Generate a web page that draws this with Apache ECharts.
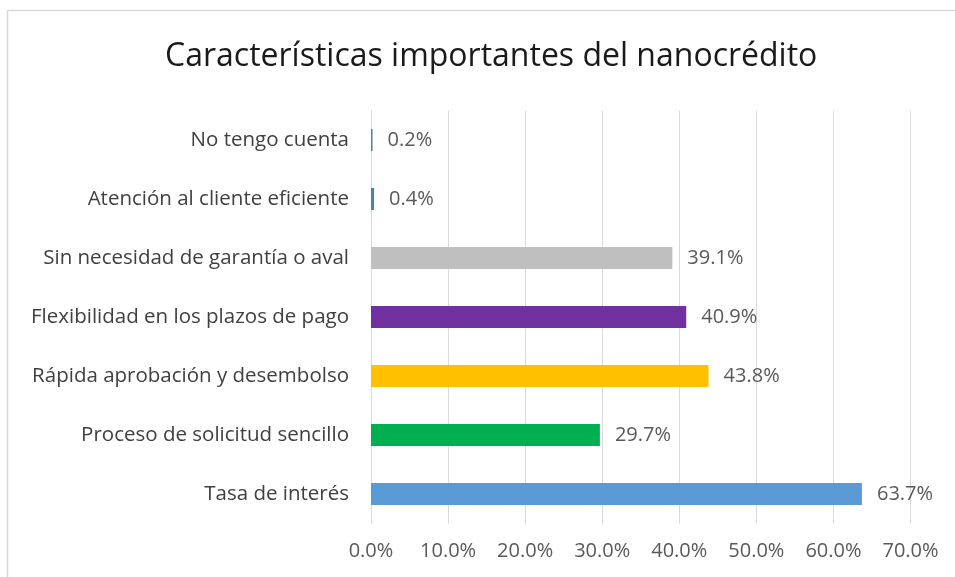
<!DOCTYPE html>
<html>
<head>
<meta charset="utf-8">
<style>
  html, body { margin: 0; padding: 0; background: #ffffff; }
  #chart { width: 955px; height: 577px; }
</style>
<script src="https://cdn.jsdelivr.net/npm/echarts@6/dist/echarts.min.js"></script>
</head>
<body>
<div id="chart"></div>
<script>
// Categories listed bottom to top, as the category axis draws them
const categories = [
  'Tasa de interés',
  'Proceso de solicitud sencillo',
  'Rápida aprobación y desembolso',
  'Flexibilidad en los plazos de pago',
  'Sin necesidad de garantía o aval',
  'Atención al cliente eficiente',
  'No tengo cuenta'
];
const values = [63.7, 29.7, 43.8, 40.9, 39.1, 0.4, 0.2];
const barColors = ['#5B9BD5', '#00B050', '#FFC000', '#7030A0', '#BFBFBF', '#4A84A8', '#4A84A8'];
const ticks = [0, 10, 20, 30, 40, 50, 60, 70];

const font = '"Open Sans", "Liberation Sans", sans-serif';
const chart = echarts.init(document.getElementById('chart'));

chart.setOption({
  backgroundColor: '#ffffff',
  animation: false,
  title: {
    text: 'Características importantes del nanocrédito',
    left: 160,
    top: 36,
    textStyle: { fontFamily: font, fontSize: 32, fontWeight: 'normal', color: '#1a1a1a' }
  },
  graphic: [{
    type: 'rect',
    shape: { x: 7.5, y: 10.5, width: 1000, height: 1000 },
    style: { fill: 'none', stroke: '#D9D9D9', lineWidth: 1.5 },
    silent: true
  }],
  grid: { left: 371, right: 44.5, top: 110.5, bottom: 53.5, containLabel: false },
  xAxis: {
    type: 'value',
    min: ticks[0],
    max: ticks[ticks.length - 1],
    interval: 10,
    axisLine: { show: false },
    axisTick: { show: false },
    splitLine: { show: true, lineStyle: { color: '#D9D9D9', width: 1 } },
    axisLabel: {
      margin: 18,
      fontFamily: font,
      fontSize: 20,
      color: '#595959',
      formatter: v => v.toFixed(1) + '%'
    }
  },
  yAxis: {
    type: 'category',
    data: categories,
    axisLine: { show: true, lineStyle: { color: '#D9D9D9', width: 1 } },
    axisTick: { show: false },
    axisLabel: { margin: 22, fontFamily: font, fontSize: 20.5, color: '#404040' }
  },
  series: [{
    type: 'bar',
    data: values.map((v, i) => ({ value: v, itemStyle: { color: barColors[i] } })),
    barWidth: 22,
    label: {
      show: true,
      position: 'right',
      distance: 15,
      fontFamily: font,
      fontSize: 20,
      color: '#595959',
      formatter: p => p.value.toFixed(1) + '%'
    }
  }]
});
</script>
</body>
</html>
